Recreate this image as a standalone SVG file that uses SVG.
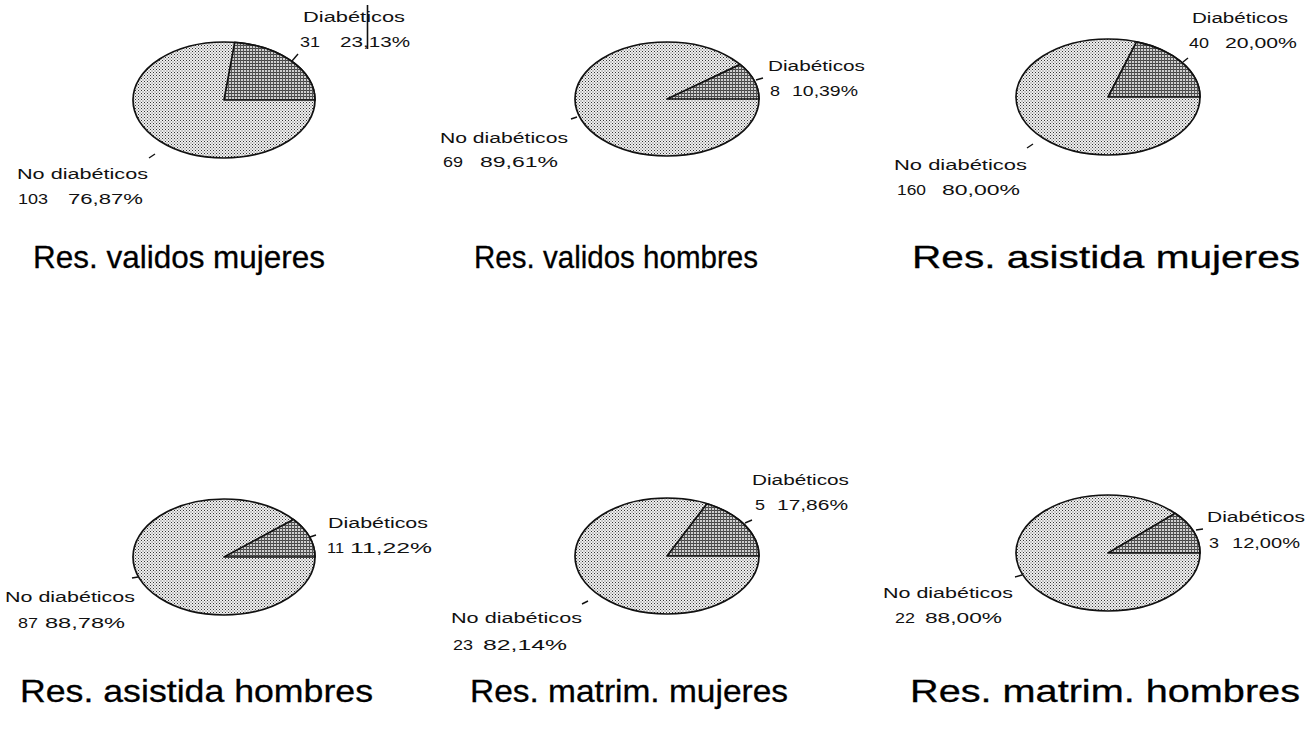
<svg xmlns="http://www.w3.org/2000/svg" width="1315" height="743" viewBox="0 0 1315 743">
<defs>
<pattern id="dots" width="3" height="3" patternUnits="userSpaceOnUse">
<rect width="3" height="3" fill="#f0f0f0"/>
<rect x="0" y="0" width="1" height="1" fill="#333"/>
<rect x="1.5" y="1.5" width="1" height="1" fill="#555"/>
</pattern>
<pattern id="grid" width="3" height="3" patternUnits="userSpaceOnUse">
<rect width="3" height="3" fill="#cfcfcf"/>
<rect x="0" y="0" width="3" height="1" fill="#444"/>
<rect x="0" y="0" width="1" height="3" fill="#555"/>
</pattern>
<style>
.pie{fill:url(#dots);stroke:#111;stroke-width:1.7}
.wedge{fill:url(#grid);stroke:#111;stroke-width:1.7;stroke-linejoin:round}
.lbl{font-family:"Liberation Sans",Arial,sans-serif;font-size:15.5px;fill:#111}
.ttl{font-family:"Liberation Sans",Arial,sans-serif;font-size:32px;fill:#000;stroke:#000;stroke-width:0.3}
.lead{stroke:#111;stroke-width:1.4;fill:none}
</style>
</defs>
<rect width="1315" height="743" fill="#fff"/>

<g id="pie-validos-mujeres">
<ellipse class="pie" cx="224" cy="100" rx="91" ry="58"/>
<path class="wedge" d="M224,100 L315,100 A91,58 0 0 0 234.67,42.4 Z"/>
<text class="lbl" x="303" y="22" textLength="102" lengthAdjust="spacingAndGlyphs">Diabéticos</text>
<text class="lbl" x="300" y="47" textLength="20" lengthAdjust="spacingAndGlyphs">31</text>
<text class="lbl" x="340" y="47" textLength="70" lengthAdjust="spacingAndGlyphs">23,13%</text>
<line x1="367.5" y1="5" x2="367.5" y2="49" stroke="#111" stroke-width="1.6"/>
<text class="lbl" x="17" y="179" textLength="131" lengthAdjust="spacingAndGlyphs">No diabéticos</text>
<text class="lbl" x="18" y="204" textLength="30" lengthAdjust="spacingAndGlyphs">103</text>
<text class="lbl" x="68" y="204" textLength="75" lengthAdjust="spacingAndGlyphs">76,87%</text>
<text class="ttl" x="33" y="268" textLength="292" lengthAdjust="spacingAndGlyphs">Res. validos mujeres</text>
</g>

<g id="pie-validos-hombres">
<ellipse class="pie" cx="667" cy="99" rx="92" ry="57"/>
<path class="wedge" d="M667,99 L759,99 A92,57 0 0 0 740.08,64.38 Z"/>
<text class="lbl" x="768" y="71" textLength="97" lengthAdjust="spacingAndGlyphs">Diabéticos</text>
<text class="lbl" x="770" y="96" textLength="10" lengthAdjust="spacingAndGlyphs">8</text>
<text class="lbl" x="792" y="96" textLength="66" lengthAdjust="spacingAndGlyphs">10,39%</text>
<text class="lbl" x="440" y="143" textLength="128" lengthAdjust="spacingAndGlyphs">No diabéticos</text>
<text class="lbl" x="443" y="167" textLength="20" lengthAdjust="spacingAndGlyphs">69</text>
<text class="lbl" x="480" y="167" textLength="78" lengthAdjust="spacingAndGlyphs">89,61%</text>
<text class="ttl" x="474" y="268" textLength="284" lengthAdjust="spacingAndGlyphs">Res. validos hombres</text>
</g>

<g id="pie-asistida-mujeres">
<ellipse class="pie" cx="1108" cy="97" rx="92" ry="58"/>
<path class="wedge" d="M1108,97 L1200,97 A92,58 0 0 0 1136.43,41.84 Z"/>
<text class="lbl" x="1192" y="23" textLength="96" lengthAdjust="spacingAndGlyphs">Diabéticos</text>
<text class="lbl" x="1189" y="48" textLength="20" lengthAdjust="spacingAndGlyphs">40</text>
<text class="lbl" x="1225" y="48" textLength="72" lengthAdjust="spacingAndGlyphs">20,00%</text>
<text class="lbl" x="894" y="170" textLength="133" lengthAdjust="spacingAndGlyphs">No diabéticos</text>
<text class="lbl" x="897" y="195" textLength="29" lengthAdjust="spacingAndGlyphs">160</text>
<text class="lbl" x="942" y="195" textLength="78" lengthAdjust="spacingAndGlyphs">80,00%</text>
<text class="ttl" x="912" y="268" textLength="388" lengthAdjust="spacingAndGlyphs">Res. asistida mujeres</text>
</g>

<g id="pie-asistida-hombres">
<ellipse class="pie" cx="224" cy="557" rx="91" ry="58"/>
<path class="wedge" d="M224,557 L315,557 A91,58 0 0 0 293.31,519.42 Z"/>
<text class="lbl" x="328" y="528" textLength="100" lengthAdjust="spacingAndGlyphs">Diabéticos</text>
<text class="lbl" x="327" y="553" textLength="17" lengthAdjust="spacingAndGlyphs">11</text>
<text class="lbl" x="350" y="553" textLength="82" lengthAdjust="spacingAndGlyphs">11,22%</text>
<text class="lbl" x="5" y="602" textLength="130" lengthAdjust="spacingAndGlyphs">No diabéticos</text>
<text class="lbl" x="18" y="628" textLength="20" lengthAdjust="spacingAndGlyphs">87</text>
<text class="lbl" x="45" y="628" textLength="80" lengthAdjust="spacingAndGlyphs">88,78%</text>
<text class="ttl" x="20" y="702" textLength="353" lengthAdjust="spacingAndGlyphs">Res. asistida hombres</text>
</g>

<g id="pie-matrim-mujeres">
<ellipse class="pie" cx="667" cy="556" rx="92" ry="58"/>
<path class="wedge" d="M667,556 L759,556 A92,58 0 0 0 706.9,503.74 Z"/>
<text class="lbl" x="752" y="485" textLength="97" lengthAdjust="spacingAndGlyphs">Diabéticos</text>
<text class="lbl" x="755" y="510" textLength="10" lengthAdjust="spacingAndGlyphs">5</text>
<text class="lbl" x="777" y="510" textLength="71" lengthAdjust="spacingAndGlyphs">17,86%</text>
<text class="lbl" x="451" y="623" textLength="131" lengthAdjust="spacingAndGlyphs">No diabéticos</text>
<text class="lbl" x="453" y="650" textLength="20" lengthAdjust="spacingAndGlyphs">23</text>
<text class="lbl" x="483" y="650" textLength="84" lengthAdjust="spacingAndGlyphs">82,14%</text>
<text class="ttl" x="470" y="702" textLength="318" lengthAdjust="spacingAndGlyphs">Res. matrim. mujeres</text>
</g>

<g id="pie-matrim-hombres">
<ellipse class="pie" cx="1108" cy="553" rx="92" ry="58"/>
<path class="wedge" d="M1108,553 L1200,553 A92,58 0 0 0 1175.07,513.3 Z"/>
<text class="lbl" x="1207" y="522" textLength="98" lengthAdjust="spacingAndGlyphs">Diabéticos</text>
<text class="lbl" x="1209" y="548" textLength="10" lengthAdjust="spacingAndGlyphs">3</text>
<text class="lbl" x="1232" y="548" textLength="68" lengthAdjust="spacingAndGlyphs">12,00%</text>
<text class="lbl" x="883" y="598" textLength="130" lengthAdjust="spacingAndGlyphs">No diabéticos</text>
<text class="lbl" x="895" y="623" textLength="20" lengthAdjust="spacingAndGlyphs">22</text>
<text class="lbl" x="925" y="623" textLength="77" lengthAdjust="spacingAndGlyphs">88,00%</text>
<text class="ttl" x="910" y="702" textLength="390" lengthAdjust="spacingAndGlyphs">Res. matrim. hombres</text>
</g>

<g id="connectors">
<line class="lead" x1="292" y1="61" x2="298" y2="54"/>
<line class="lead" x1="149" y1="158" x2="155" y2="154"/>
<line class="lead" x1="756" y1="80" x2="763" y2="78"/>
<line class="lead" x1="571" y1="119" x2="577" y2="117"/>
<line class="lead" x1="1183" y1="62" x2="1188" y2="58"/>
<line class="lead" x1="1027" y1="148" x2="1033" y2="144"/>
<line class="lead" x1="310" y1="537" x2="316" y2="535"/>
<line class="lead" x1="132" y1="578" x2="138" y2="577"/>
<line class="lead" x1="745" y1="523" x2="752" y2="520"/>
<line class="lead" x1="582" y1="604" x2="588" y2="601"/>
<line class="lead" x1="1196" y1="530" x2="1203" y2="529"/>
<line class="lead" x1="1015" y1="577" x2="1022" y2="575"/>
</g>
</svg>
